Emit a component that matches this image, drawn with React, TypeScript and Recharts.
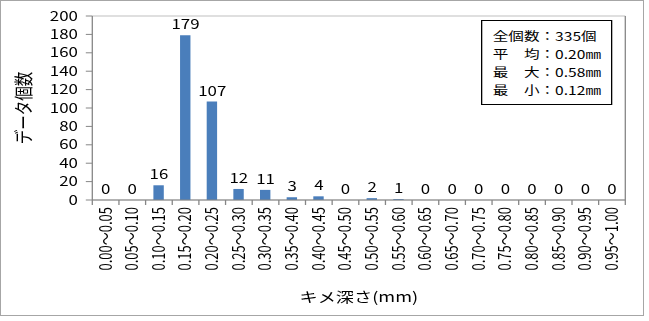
import {
  Bar,
  CartesianGrid,
  ComposedChart,
  LabelList,
  Line,
  XAxis,
  YAxis,
} from "recharts";

const ranges = [
  "0.00～0.05", "0.05～0.10", "0.10～0.15", "0.15～0.20", "0.20～0.25",
  "0.25～0.30", "0.30～0.35", "0.35～0.40", "0.40～0.45", "0.45～0.50",
  "0.50～0.55", "0.55～0.60", "0.60～0.65", "0.65～0.70", "0.70～0.75",
  "0.75～0.80", "0.80～0.85", "0.85～0.90", "0.90～0.95", "0.95～1.00",
];
const counts = [0, 0, 16, 179, 107, 12, 11, 3, 4, 0, 2, 1, 0, 0, 0, 0, 0, 0, 0, 0];
const yTicks = [0, 20, 40, 60, 80, 100, 120, 140, 160, 180, 200];
const stats = ["全個数：335個", "平　均：0.20㎜", "最　大：0.58㎜", "最　小：0.12㎜"];

const data = ranges.map((range, i) => ({ range, count: counts[i] }));

const FONT = "'Noto Sans CJK JP', 'Noto Sans', sans-serif";
const STRETCH = 1.3; // source picture is stretched horizontally
const AXIS = "#868686";

function RangeTick(props: any) {
  const { x, y, payload, index } = props;
  const half = payload.offset ?? 10.25;
  return (
    <g>
      <line x1={x - half} x2={x - half} y1={y} y2={y + 5} stroke={AXIS} />
      {index === ranges.length - 1 && (
        <line x1={x + half} x2={x + half} y1={y} y2={y + 5} stroke={AXIS} />
      )}
      <text
        x={x}
        y={y + 7}
        transform={`rotate(-90, ${x}, ${y + 7})`}
        textAnchor="end"
        dy="0.35em"
        fontSize={13}
        fill="#000"
        fontFamily={FONT}
      >
        {payload.value}
      </text>
    </g>
  );
}

export default function App() {
  return (
    <>
      <div
        style={{
          position: "absolute",
          left: 0,
          top: 0,
          width: 644,
          height: 316,
          border: "1px solid #a6a6a6",
          boxSizing: "border-box",
        }}
      />
      <div
        style={{
          position: "absolute",
          left: 0,
          top: 0,
          width: 499,
          height: 321,
          transform: `scaleX(${STRETCH})`,
          transformOrigin: "0 0",
          fontFamily: FONT,
        }}
      >
        <ComposedChart
          width={499}
          height={321}
          data={data}
          margin={{ top: 16, right: 17, left: 5, bottom: 11 }}
        >
          <CartesianGrid vertical={false} stroke="#c0c0c0" />
          <XAxis
            dataKey="range"
            interval={0}
            height={110}
            tickSize={0}
            tickMargin={0}
            tickLine={false}
            axisLine={{ stroke: AXIS }}
            tick={<RangeTick />}
            label={{
              content: ({ viewBox }: any) => (
                <text
                  x={viewBox.x + viewBox.width / 2}
                  y={viewBox.y + 96}
                  textAnchor="middle"
                  dominantBaseline="central"
                  fontSize={14}
                  fill="#000"
                  fontFamily={FONT}
                >
                  キメ深さ(mm)
                </text>
              ),
            }}
          />
          <YAxis
            yAxisId="left"
            width={66}
            domain={[0, 200]}
            ticks={yTicks}
            interval={0}
            tickSize={5}
            tickMargin={6}
            tickLine={{ stroke: AXIS }}
            axisLine={{ stroke: AXIS }}
            tick={{ fontSize: 13, fill: "#000", fontFamily: FONT }}
            label={{
              content: ({ viewBox }: any) => {
                const cx = viewBox.x + 13;
                const cy = viewBox.y + viewBox.height / 2;
                return (
                  <text
                    x={cx}
                    y={cy}
                    transform={`rotate(-90, ${cx}, ${cy})`}
                    textAnchor="middle"
                    dominantBaseline="central"
                    fontSize={14.5}
                    fill="#000"
                    fontFamily={FONT}
                  >
                    データ個数
                  </text>
                );
              },
            }}
          />
          <YAxis
            yAxisId="right"
            orientation="right"
            width={1}
            domain={[0, 200]}
            tick={false}
            tickLine={false}
            axisLine={{ stroke: AXIS }}
          />
          <Bar
            yAxisId="left"
            dataKey="count"
            fill="#4a7ebb"
            barSize={8}
            isAnimationActive={false}
          />
          {/* invisible series that carries the value labels, zeros included */}
          <Line
            yAxisId="left"
            dataKey="count"
            stroke="none"
            dot={false}
            activeDot={false}
            legendType="none"
            isAnimationActive={false}
          >
            <LabelList
              dataKey="count"
              position="top"
              offset={6}
              fontSize={13}
              fill="#000"
              fontFamily={FONT}
            />
          </Line>
        </ComposedChart>
        <div
          style={{
            position: "absolute",
            left: 370,
            top: 20,
            width: 101,
            height: 85,
            boxSizing: "border-box",
            border: "1px solid #000",
            background: "#fff",
            padding: "6px 0 0 8px",
            fontSize: 12,
            lineHeight: "18px",
            color: "#000",
            whiteSpace: "nowrap",
          }}
        >
          {stats.map((s) => (
            <div key={s}>{s}</div>
          ))}
        </div>
      </div>
    </>
  );
}
